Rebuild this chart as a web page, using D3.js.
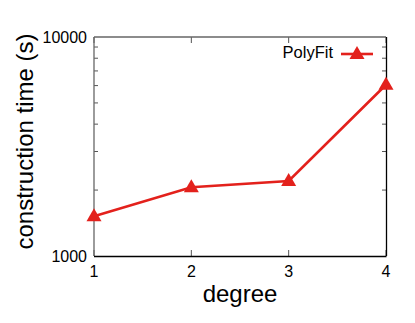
<!DOCTYPE html>
<html><head><meta charset="utf-8">
<script src="https://cdn.jsdelivr.net/npm/d3@7"></script>
<style>html,body{margin:0;padding:0;background:#fff;}svg{display:block;}</style>
</head><body>
<svg id="c" width="415" height="323"></svg>
<script>
const degrees = [1, 2, 3, 4];
const polyFitTimes = [1520, 2060, 2200, 6050];
const xTickLabels = ["1", "2", "3", "4"];
const yTickValues = [1000, 10000];
const yMinorTicks = [2000, 3000, 4000, 5000, 6000, 7000, 8000, 9000];
const seriesName = "PolyFit";

const svg = d3.select("#c");
const L = 94, R = 386, T = 37, B = 256;
const font = "'Liberation Sans', Arial, sans-serif";
const red = "#e3211c";

const x = d3.scaleLinear().domain([1, 4]).range([L, R]);
const y = d3.scaleLog().domain([1000, 10000]).range([B, T]);

// ticks (inward)
const g = svg.append("g");
degrees.forEach(d => {
  g.append("line").attr("x1", x(d)).attr("x2", x(d)).attr("y1", B).attr("y2", B - 6).attr("stroke", "#555").attr("stroke-width", 1);
  g.append("line").attr("x1", x(d)).attr("x2", x(d)).attr("y1", T).attr("y2", T + 6).attr("stroke", "#555").attr("stroke-width", 1);
});
yMinorTicks.forEach(v => {
  g.append("line").attr("x1", L).attr("x2", L + 4).attr("y1", y(v)).attr("y2", y(v)).attr("stroke", "#555");
  g.append("line").attr("x1", R).attr("x2", R - 4).attr("y1", y(v)).attr("y2", y(v)).attr("stroke", "#555");
});

// frame
g.append("line").attr("x1", L).attr("x2", L).attr("y1", T).attr("y2", B).attr("stroke", "#666").attr("stroke-width", 1.3);
g.append("line").attr("x1", L).attr("x2", R).attr("y1", T).attr("y2", T).attr("stroke", "#666").attr("stroke-width", 1.3);
g.append("line").attr("x1", L).attr("x2", R + 0.5).attr("y1", B + 0.5).attr("y2", B + 0.5).attr("stroke", "#000").attr("stroke-width", 1.3);
g.append("line").attr("x1", R + 0.5).attr("x2", R + 0.5).attr("y1", T).attr("y2", B).attr("stroke", "#000").attr("stroke-width", 1.3);

// tick labels
degrees.forEach((d, i) => {
  svg.append("text").attr("x", x(d)).attr("y", B + 21).attr("text-anchor", "middle")
    .attr("font-family", font).attr("font-size", 16).text(xTickLabels[i]);
});
yTickValues.forEach(v => {
  svg.append("text").attr("x", L - 7).attr("y", y(v) + 6).attr("text-anchor", "end")
    .attr("font-family", font).attr("font-size", 16).text(String(v));
});

// axis titles
svg.append("text").attr("x", (L + R) / 2).attr("y", 302).attr("text-anchor", "middle")
  .attr("font-family", font).attr("font-size", 24).text("degree");
svg.append("text").attr("transform", `translate(33,${(T + B) / 2 - 5}) rotate(-90)`).attr("text-anchor", "middle")
  .attr("font-family", font).attr("font-size", 24).text("construction time (s)");

// series
const line = d3.line().x((d, i) => x(degrees[i])).y(d => y(d));
svg.append("path").datum(polyFitTimes).attr("d", line).attr("fill", "none")
  .attr("stroke", red).attr("stroke-width", 2.6);
const tri = (cx, cy) => `M${cx},${cy - 8}L${cx + 7.5},${cy + 5}L${cx - 7.5},${cy + 5}Z`;
svg.selectAll("path.pt").data(polyFitTimes).enter().append("path").attr("class", "pt")
  .attr("d", (d, i) => tri(x(degrees[i]), y(d))).attr("fill", red);

// legend
svg.append("text").attr("x", 333).attr("y", 58).attr("text-anchor", "end")
  .attr("font-family", font).attr("font-size", 16.5).text(seriesName);
svg.append("line").attr("x1", 341).attr("x2", 373).attr("y1", 54).attr("y2", 54).attr("stroke", red).attr("stroke-width", 2.6);
svg.append("path").attr("d", tri(357, 54)).attr("fill", red);
</script>
</body></html>
